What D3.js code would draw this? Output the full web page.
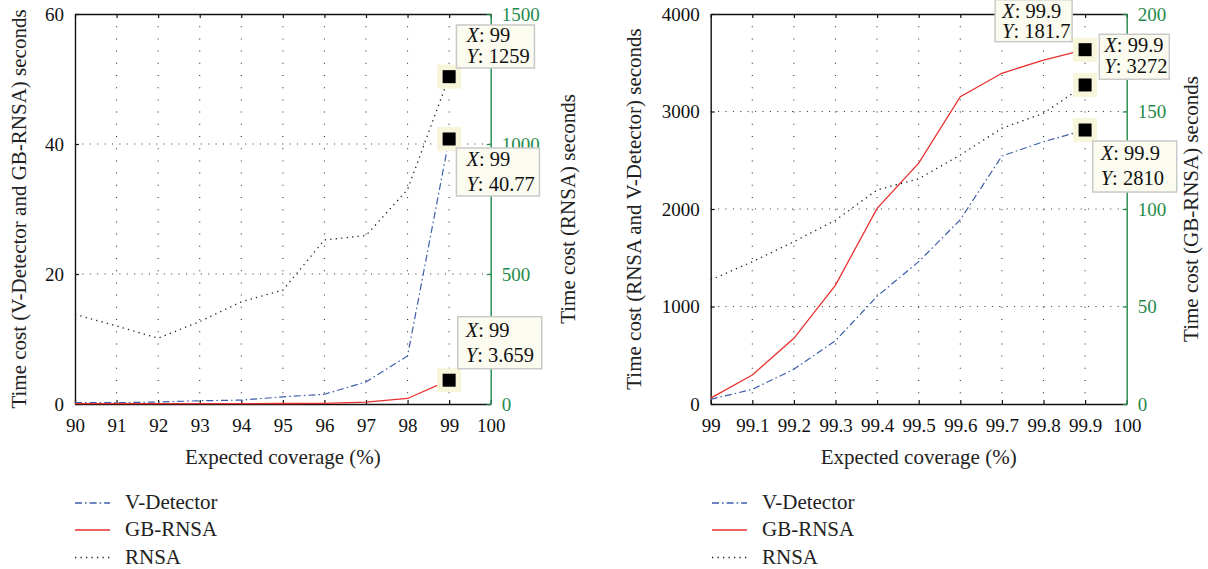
<!DOCTYPE html>
<html>
<head>
<meta charset="utf-8">
<script src="https://cdn.jsdelivr.net/npm/d3@7"></script>
<style>
  body { margin: 0; background: #fff; }
  svg { display: block; }
  text { font-family: "Liberation Serif", "DejaVu Serif", serif; }
</style>
</head>
<body>
<svg id="chart" width="1208" height="569"></svg>
<script>
// ---- data ----
const seriesNames = ["V-Detector", "GB-RNSA", "RNSA"];

const leftCoverage = [90, 91, 92, 93, 94, 95, 96, 97, 98, 99];
const leftVDetector = [0.2, 0.2, 0.3, 0.5, 0.6, 1.1, 1.5, 3.4, 7.4, 40.77];
const leftGBRNSA = [0.05, 0.05, 0.05, 0.05, 0.06, 0.08, 0.1, 0.3, 0.85, 3.659];
const leftRNSA = [345, 300, 253, 317, 393, 438, 631, 648, 825, 1259];
const leftXTicks = [90, 91, 92, 93, 94, 95, 96, 97, 98, 99, 100];
const leftYTicks = [0, 20, 40, 60];
const leftY2Ticks = [0, 500, 1000, 1500];

const rightCoverage = [99, 99.1, 99.2, 99.3, 99.4, 99.5, 99.6, 99.7, 99.8, 99.9];
const rightVDetector = [48, 150, 356, 650, 1105, 1460, 1890, 2544, 2690, 2810];
const rightGBRNSA = [3, 14.9, 33.7, 61, 100.3, 123.5, 157.6, 169.6, 176.4, 181.7];
const rightRNSA = [1272, 1459, 1665, 1885, 2195, 2310, 2554, 2828, 2982, 3272];
const rightXTicks = [99, 99.1, 99.2, 99.3, 99.4, 99.5, 99.6, 99.7, 99.8, 99.9, 100];
const rightYTicks = [0, 1000, 2000, 3000, 4000];
const rightY2Ticks = [0, 50, 100, 150, 200];

// data tips: which series point is labelled (series index into seriesNames)
const leftTips = [
    { series: 2, x: 99, y: 1259 },
    { series: 0, x: 99, y: 40.77 },
    { series: 1, x: 99, y: 3.659 },
];
const rightTips = [
    { series: 1, x: 99.9, y: 181.7 },
    { series: 2, x: 99.9, y: 3272 },
    { series: 0, x: 99.9, y: 2810 },
];

// ---- styles ----
const BLUE = "#3d5eaa";
const RED = "#e8302f";
const GREEN = "#1f8a4a";
const SERIF = '"Liberation Serif", "DejaVu Serif", serif';
const FONT = 19;        // tick labels
const TITLE_FONT = 21;  // axis titles, legend
const TIP_FONT = 20.5;  // data tip boxes
const lineStyles = [
    { stroke: BLUE, dash: "7,3,1.6,3", width: 1.2 },
    { stroke: RED, dash: null, width: 1.3 },
    { stroke: "#222", dash: "1.3,4.2", width: 1.3 },
];

const svg = d3.select("#chart");

function drawPanel(cfg) {
    const { left, right, top, bottom } = cfg;
    const g = svg.append("g");

    const x = d3.scaleLinear().domain(cfg.xDomain).range([left, right]);
    const y = d3.scaleLinear().domain(cfg.yDomain).range([bottom, top]);
    const y2 = d3.scaleLinear().domain(cfg.y2Domain).range([bottom, top]);
    const scaleFor = (axis) => (axis === "y2" ? y2 : y);
    const plain = (d) => String(d);

    // grid
    const grid = g.append("g").attr("stroke", "#333").attr("stroke-width", 1.1);
    grid.selectAll("line.v")
        .data(cfg.xTicks.slice(1, -1))
        .join("line")
        .attr("class", "v")
        .attr("x1", (d) => x(d)).attr("x2", (d) => x(d))
        .attr("y1", top).attr("y2", bottom)
        .attr("stroke-dasharray", "1,11.2");
    grid.selectAll("line.h")
        .data(cfg.yTicks.slice(1, -1))
        .join("line")
        .attr("class", "h")
        .attr("x1", left).attr("x2", right)
        .attr("y1", (d) => y(d)).attr("y2", (d) => y(d))
        .attr("stroke-dasharray", "1,6.4");

    // axes
    const styleAxis = (sel, color) => {
        sel.attr("font-family", SERIF).attr("font-size", FONT);
        sel.select(".domain").attr("stroke", color).attr("stroke-width", 1.4);
        sel.selectAll(".tick line").attr("stroke", color).attr("stroke-width", 1.2);
        sel.selectAll(".tick text").attr("fill", color);
    };

    g.append("g")
        .attr("transform", `translate(0,${top})`)
        .call(d3.axisTop(x).tickValues(cfg.xTicks).tickSize(-4).tickSizeOuter(0).tickFormat(""))
        .call(styleAxis, "#111");
    g.append("g")
        .attr("transform", `translate(0,${bottom})`)
        .call(d3.axisBottom(x).tickValues(cfg.xTicks).tickSize(-4).tickSizeOuter(0)
            .tickPadding(15).tickFormat(plain))
        .call(styleAxis, "#111");
    g.append("g")
        .attr("transform", `translate(${left},0)`)
        .call(d3.axisLeft(y).tickValues(cfg.yTicks).tickSize(-4).tickSizeOuter(0)
            .tickPadding(11).tickFormat(plain))
        .call(styleAxis, "#111");
    g.append("g")
        .attr("transform", `translate(${right},0)`)
        .call(d3.axisRight(y2).tickValues(cfg.y2Ticks).tickSize(-4).tickSizeOuter(0)
            .tickPadding(11).tickFormat(plain))
        .call(styleAxis, GREEN);

    // titles
    const midY = (top + bottom) / 2;
    g.append("text")
        .attr("x", (left + right) / 2).attr("y", cfg.xTitleY)
        .attr("text-anchor", "middle").attr("font-size", TITLE_FONT).attr("fill", "#222")
        .text("Expected coverage (%)");
    g.append("text")
        .attr("transform", `translate(${cfg.yTitleX},${midY}) rotate(-90)`)
        .attr("text-anchor", "middle").attr("font-size", TITLE_FONT).attr("fill", "#222")
        .text(cfg.yTitle);
    g.append("text")
        .attr("transform", `translate(${cfg.y2TitleX},${midY}) rotate(-90)`)
        .attr("text-anchor", "middle").attr("font-size", TITLE_FONT).attr("fill", "#222")
        .text(cfg.y2Title);

    // series lines
    cfg.series.forEach((s, i) => {
        const sc = scaleFor(s.axis);
        const st = lineStyles[i];
        const line = d3.line().x((d) => x(d[0])).y((d) => sc(d[1]));
        g.append("path")
            .datum(d3.zip(cfg.coverage, s.values))
            .attr("d", line)
            .attr("fill", "none")
            .attr("stroke", st.stroke)
            .attr("stroke-width", st.width)
            .attr("stroke-dasharray", st.dash);
    });

    // data tips
    cfg.tips.forEach((tip, i) => {
        const sc = scaleFor(cfg.series[tip.series].axis);
        const cx = x(tip.x);
        const cy = sc(tip.y);
        const box = cfg.tipBoxes[i];

        g.append("rect")
            .attr("x", cx - 12).attr("y", cy - 12)
            .attr("width", 24).attr("height", 24)
            .attr("fill", "#f7f5da");
        g.append("rect")
            .attr("x", cx - 6.5).attr("y", cy - 6.5)
            .attr("width", 13).attr("height", 13)
            .attr("fill", "#000");

        const bx = cx + box.dx;
        const by = cy + box.dy;
        g.append("rect")
            .attr("x", bx).attr("y", by)
            .attr("width", box.w).attr("height", box.h)
            .attr("fill", "#fbfbef")
            .attr("stroke", "#c9c9c9")
            .attr("stroke-width", 1.5);

        const rows = [["X", String(tip.x)], ["Y", String(tip.y)]];
        rows.forEach(([k, v], r) => {
            const t = g.append("text")
                .attr("x", bx + box.pad)
                .attr("y", by + (r === 0 ? box.row1 : box.row2))
                .attr("font-size", TIP_FONT)
                .attr("fill", "#111");
            t.append("tspan").attr("font-style", "italic").text(k);
            t.append("tspan").text(": " + v);
        });
    });

    // legend
    const legendRows = [503, 530, 557.5];
    seriesNames.forEach((name, i) => {
        const st = lineStyles[i];
        g.append("line")
            .attr("x1", cfg.legendX).attr("x2", cfg.legendX + 35)
            .attr("y1", legendRows[i]).attr("y2", legendRows[i])
            .attr("stroke", st.stroke)
            .attr("stroke-width", i === 1 ? 1.6 : 1.3)
            .attr("stroke-dasharray", st.dash);
        g.append("text")
            .attr("x", cfg.legendX + 50).attr("y", legendRows[i] + 6)
            .attr("font-size", TITLE_FONT).attr("fill", "#222")
            .text(name);
    });
}

drawPanel({
    left: 75, right: 490.7, top: 14, bottom: 404,
    xDomain: [90, 100], yDomain: [0, 60], y2Domain: [0, 1500],
    xTicks: leftXTicks, yTicks: leftYTicks, y2Ticks: leftY2Ticks,
    coverage: leftCoverage,
    series: [
        { values: leftVDetector, axis: "y" },
        { values: leftGBRNSA, axis: "y" },
        { values: leftRNSA, axis: "y2" },
    ],
    tips: leftTips,
    tipBoxes: [
        { dx: 7.3, dy: -51.7, w: 78, h: 43, pad: 10, row1: 17, row2: 38 },
        { dx: 7.3, dy: 9, w: 83, h: 48, pad: 10, row1: 18, row2: 43 },
        { dx: 8.6, dy: -63.5, w: 84, h: 52, pad: 8, row1: 20, row2: 45 },
    ],
    xTitleY: 464,
    yTitle: "Time cost (V-Detector and GB-RNSA) seconds", yTitleX: 26,
    y2Title: "Time cost (RNSA) seconds", y2TitleX: 575,
    legendX: 75,
});

drawPanel({
    left: 710.7, right: 1126.7, top: 14, bottom: 404,
    xDomain: [99, 100], yDomain: [0, 4000], y2Domain: [0, 200],
    xTicks: rightXTicks, yTicks: rightYTicks, y2Ticks: rightY2Ticks,
    coverage: rightCoverage,
    series: [
        { values: rightVDetector, axis: "y" },
        { values: rightGBRNSA, axis: "y2" },
        { values: rightRNSA, axis: "y" },
    ],
    tips: rightTips,
    tipBoxes: [
        { dx: -90, dy: -50, w: 77, h: 42, pad: 7, row1: 18, row2: 38 },
        { dx: 14.2, dy: -50.7, w: 70, h: 45, pad: 5, row1: 18, row2: 39 },
        { dx: 7.6, dy: 11, w: 84, h: 51, pad: 8, row1: 19, row2: 44 },
    ],
    xTitleY: 464,
    yTitle: "Time cost (RNSA and V-Detector) seconds", yTitleX: 641,
    y2Title: "Time cost (GB-RNSA) seconds", y2TitleX: 1198,
    legendX: 712,
});
</script>
</body>
</html>
